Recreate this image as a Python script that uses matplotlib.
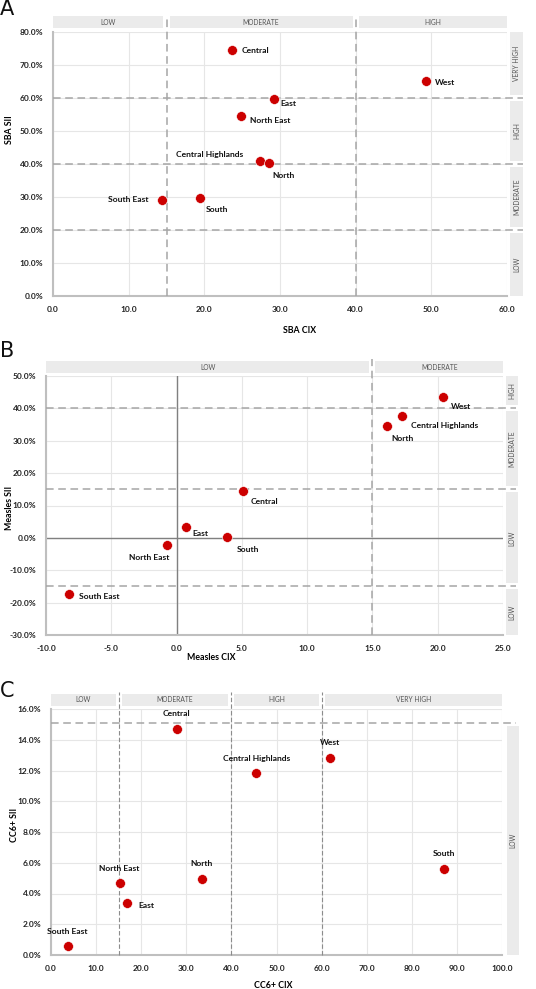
import matplotlib
matplotlib.use("Agg")
import matplotlib.pyplot as plt
from matplotlib.patches import Rectangle
from matplotlib.transforms import blended_transform_factory
import matplotlib.ticker as mticker

plt.rcParams['font.family'] = ['Lato', 'DejaVu Sans']

# ---------------- data ----------------
regions = ["Central", "West", "East", "North East", "Central Highlands",
           "North", "South East", "South"]

sba_cix = [23.6, 49.3, 29.25, 24.8, 27.3, 28.5, 14.45, 19.4]
sba_sii = [74.4, 65.3, 59.8, 54.5, 40.9, 40.3, 29.1, 29.8]

measles_cix = [5.06, 20.4, 0.7, -0.76, 17.3, 16.1, -8.24, 3.9]
measles_sii = [14.5, 43.4, 3.35, -2.2, 37.5, 34.7, -17.2, 0.3]

cc6_cix = [27.9, 61.8, 16.8, 15.4, 45.5, 33.4, 3.7, 87.2]
cc6_sii = [14.72, 12.84, 3.4, 4.68, 11.82, 4.96, 0.59, 5.61]

# category bands (thresholds and names)
sba_x_thr = [0, 15, 40, 60]
sba_x_bands = ["LOW", "MODERATE", "HIGH"]
sba_y_thr = [0, 20, 40, 60, 80]
sba_y_bands = ["LOW", "MODERATE", "HIGH", "VERY HIGH"]

measles_x_thr = [-10, 15, 25]
measles_x_bands = ["LOW", "MODERATE"]
measles_y_thr = [-30, -15, 15, 40, 50]
measles_y_bands = ["LOW", "LOW", "MODERATE", "HIGH"]

cc6_x_thr = [0, 15, 40, 60, 100]
cc6_x_bands = ["LOW", "MODERATE", "HIGH", "VERY HIGH"]
cc6_y_thr = [0, 15.1]
cc6_y_bands = ["LOW"]

# ---------------- style / layout ----------------
W, H = 536, 989
fig = plt.figure(figsize=(W / 100, H / 100), dpi=100)

RED = "#cc0000"
DASH = "#a6a6a6"
GRID = "#e6e6e6"
STRIP = "#ebebeb"


def add_axes_px(l, t, r, b):
    return fig.add_axes([l / W, 1 - b / H, (r - l) / W, (b - t) / H])


def panel(ax, x, y, xlim, ylim, xstep, ystep, xthr, xbands, ythr, ybands,
          offsets, xlabel, ylabel, xlab_pos, ylab_pos, zero_lines=False,
          hline_ext=16, rstrip=(3, 16), tstrip=(3.5, 16),
          vstyle=(DASH, 1.1, (0, (5, 3)))):
    bb = ax.get_position()
    aw = bb.width * W
    ah = bb.height * H
    ax.set_xlim(*xlim)
    ax.set_ylim(*ylim)
    ax.xaxis.set_major_locator(mticker.MultipleLocator(xstep))
    ax.yaxis.set_major_locator(mticker.MultipleLocator(ystep))
    ax.xaxis.set_major_formatter(mticker.FuncFormatter(lambda v, p: f"{v:.1f}"))
    ax.yaxis.set_major_formatter(mticker.FuncFormatter(lambda v, p: f"{v:.1f}%"))
    ax.grid(True, color=GRID, linestyle="-", linewidth=0.8)
    ax.set_axisbelow(True)
    for s in ["top", "right"]:
        ax.spines[s].set_visible(False)
    for s in ["left", "bottom"]:
        ax.spines[s].set_color("#bfbfbf")
        ax.spines[s].set_linewidth(1.5)
    ax.tick_params(length=0, labelsize=6, pad=7, labelcolor="#222222")
    for lab in ax.get_xticklabels() + ax.get_yticklabels():
        lab.set_fontweight("bold")

    if zero_lines:
        ax.axhline(0, color="#808080", lw=1, zorder=2)
        ax.axvline(0, color="#808080", lw=1, zorder=2)

    tx = blended_transform_factory(ax.transData, ax.transAxes)
    ty = blended_transform_factory(ax.transAxes, ax.transData)
    dxpp = (xlim[1] - xlim[0]) / aw
    dypp = (ylim[1] - ylim[0]) / ah

    # threshold dashed lines
    for t in xthr:
        if xlim[0] < t < xlim[1]:
            ax.plot([t, t], [0, 1 + 17 / ah], transform=tx, color=vstyle[0],
                    lw=vstyle[1], ls=vstyle[2], clip_on=False, zorder=3)
    for t in ythr:
        if ylim[0] < t < ylim[1]:
            ax.plot([0, 1 + hline_ext / aw], [t, t], transform=ty, color=DASH,
                    lw=1.1, ls=(0, (5, 3)), clip_on=False, zorder=3)

    # top strips
    for i, name in enumerate(xbands):
        a, b = xthr[i], xthr[i + 1]
        a2 = a + 3 * dxpp if a > xlim[0] else a
        b2 = b - 3 * dxpp if b < xlim[1] else b
        y0 = 1 + tstrip[0] / ah
        y1 = 1 + tstrip[1] / ah
        ax.add_patch(Rectangle((a2, y0), b2 - a2, y1 - y0, transform=tx,
                               facecolor=STRIP, edgecolor="none",
                               clip_on=False, zorder=1))
        ax.text((a2 + b2) / 2, (y0 + y1) / 2, name, transform=tx, ha="center",
                va="center", fontsize=4.8, color="#555555")

    # right strips
    for i, name in enumerate(ybands):
        a, b = ythr[i], ythr[i + 1]
        a2 = a + 3 * dypp if a > ylim[0] else a
        b2 = b - 3 * dypp if b < ylim[1] else b
        x0 = 1 + rstrip[0] / aw
        x1 = 1 + rstrip[1] / aw
        ax.add_patch(Rectangle((x0, a2), x1 - x0, b2 - a2, transform=ty,
                               facecolor=STRIP, edgecolor="none",
                               clip_on=False, zorder=1))
        ax.text((x0 + x1) / 2, (a2 + b2) / 2, name, transform=ty, ha="center",
                va="center", rotation=90, fontsize=4.8, color="#555555")

    ax.scatter(x, y, s=50, color=RED, edgecolor="white", linewidth=0.4,
               zorder=5, clip_on=False)
    for name, xi, yi, (dx, dy, ha) in zip(regions, x, y, offsets):
        ax.annotate(name, (xi, yi), xytext=(dx * 0.72, -dy * 0.72),
                    textcoords="offset points", ha=ha, va="center",
                    fontsize=6.1, fontweight="bold", color="#111111", zorder=6)

    ax.set_xlabel(xlabel, fontsize=6.3, fontweight="bold")
    ax.set_ylabel(ylabel, fontsize=6.3, fontweight="bold")
    ax.xaxis.set_label_coords(*xlab_pos)
    ax.xaxis.label.set_va("center")
    ax.yaxis.set_label_coords(*ylab_pos)
    ax.yaxis.label.set_va("center")


# ---------------- panel A ----------------
axA = add_axes_px(53, 32, 507, 296)
offA = [(10, 0, "left"), (9, 2, "left"), (6, 5, "left"), (9, 4, "left"),
        (-16, -7, "right"), (4, 12, "left"), (-14, 0, "right"), (6, 12, "left")]
panel(axA, sba_cix, sba_sii, (0, 60), (0, 80), 10, 10,
      sba_x_thr, sba_x_bands, sba_y_thr, sba_y_bands, offA,
      "SBA CIX", "SBA SII", (0.542, -0.129), (-0.095, 0.629))

# ---------------- panel B ----------------
axB = add_axes_px(46, 376, 503, 635)
offB = [(8, 11, "left"), (8, 9, "left"), (7, 6, "left"), (3, 13, "right"),
        (9, 9, "left"), (5, 13, "left"), (10, 3, "left"), (9, 13, "left")]
panel(axB, measles_cix, measles_sii, (-10, 25), (-30, 50), 5, 10,
      measles_x_thr, measles_x_bands, measles_y_thr, measles_y_bands, offB,
      "Measles CIX", "Measles SII", (0.361, -0.085), (-0.079, 0.49),
      zero_lines=True, hline_ext=13, rstrip=(3, 15), tstrip=(3, 15))

# ---------------- panel C ----------------
axC = add_axes_px(51, 709, 502, 955)
offC = [(0, -15, "center"), (0, -15, "center"), (12, 3, "left"),
        (-1, -15, "center"), (0, -15, "center"), (0, -15, "center"),
        (0, -14, "center"), (0, -15, "center")]
panel(axC, cc6_cix, cc6_sii, (0, 100), (0, 16), 10, 2,
      cc6_x_thr, cc6_x_bands, cc6_y_thr, cc6_y_bands, offC,
      "CC6+ CIX", "CC6+ SII", (0.492, -0.126), (-0.082, 0.528),
      hline_ext=14, rstrip=(5, 17), tstrip=(3, 15),
      vstyle=("#8c8c8c", 0.8, (0, (4, 2))))

# panel letters
for letter, top in [("A", -1), ("B", 341), ("C", 681)]:
    fig.text(0, 1 - top / H, letter, ha="left", va="top", fontsize=15,
             family="DejaVu Sans", color="#111111")

fig.savefig("out.png", dpi=100)
